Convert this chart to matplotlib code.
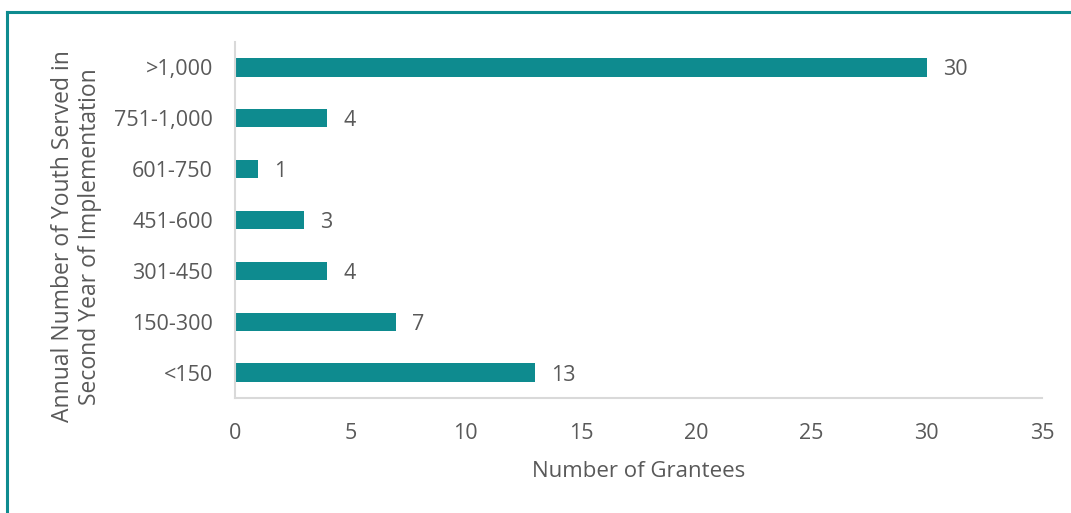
import matplotlib.pyplot as plt
from matplotlib.lines import Line2D

categories = ['<150', '150-300', '301-450', '451-600', '601-750', '751-1,000', '>1,000']
grantees = [13, 7, 4, 3, 1, 4, 30]
xticks = [0, 5, 10, 15, 20, 25, 30, 35]

teal = '#0e8b8f'
grey = '#595959'

plt.rcParams['font.family'] = ['Open Sans', 'DejaVu Sans']

fig = plt.figure(figsize=(10.71, 5.13), dpi=100)
ax = fig.add_axes([0.2194, 0.2242, 0.7535, 0.6939])

ypos = range(len(categories))
ax.barh(ypos, grantees, height=0.36, color=teal)
for y, v in zip(ypos, grantees):
    ax.annotate(str(v), (v, y), xytext=(11.5, 0), textcoords='offset points',
                va='center_baseline', ha='left', fontsize=15.5, color=grey)

ax.set_xlim(0, 35)
ax.set_ylim(-0.5, len(categories) - 0.5)
ax.set_xticks(xticks)
ax.set_yticks(list(ypos))
ax.set_yticklabels(categories)
ax.tick_params(length=0, labelsize=15.5, colors=grey)
ax.tick_params(axis='x', pad=18)
ax.tick_params(axis='y', pad=16)
for s in ['top', 'right']:
    ax.spines[s].set_visible(False)
for s in ['left', 'bottom']:
    ax.spines[s].set_color('#d9d9d9')
    ax.spines[s].set_linewidth(1.5)

ax.set_xlabel('Number of Grantees', fontsize=16, color=grey, labelpad=12)
fig.text(0.071, 0.539, 'Annual Number of Youth Served in\nSecond Year of Implementation',
         rotation=90, ha='center', va='center', fontsize=16.5, color=grey,
         linespacing=1.17)

# teal frame (top and left edges)
fig.add_artist(Line2D([0.0065, 1.0], [0.977, 0.977], color=teal, lw=2.2,
                      transform=fig.transFigure))
fig.add_artist(Line2D([0.0065, 0.0065], [0.0, 0.977], color=teal, lw=2.2,
                      transform=fig.transFigure))

fig.savefig('out.png', dpi=100)
